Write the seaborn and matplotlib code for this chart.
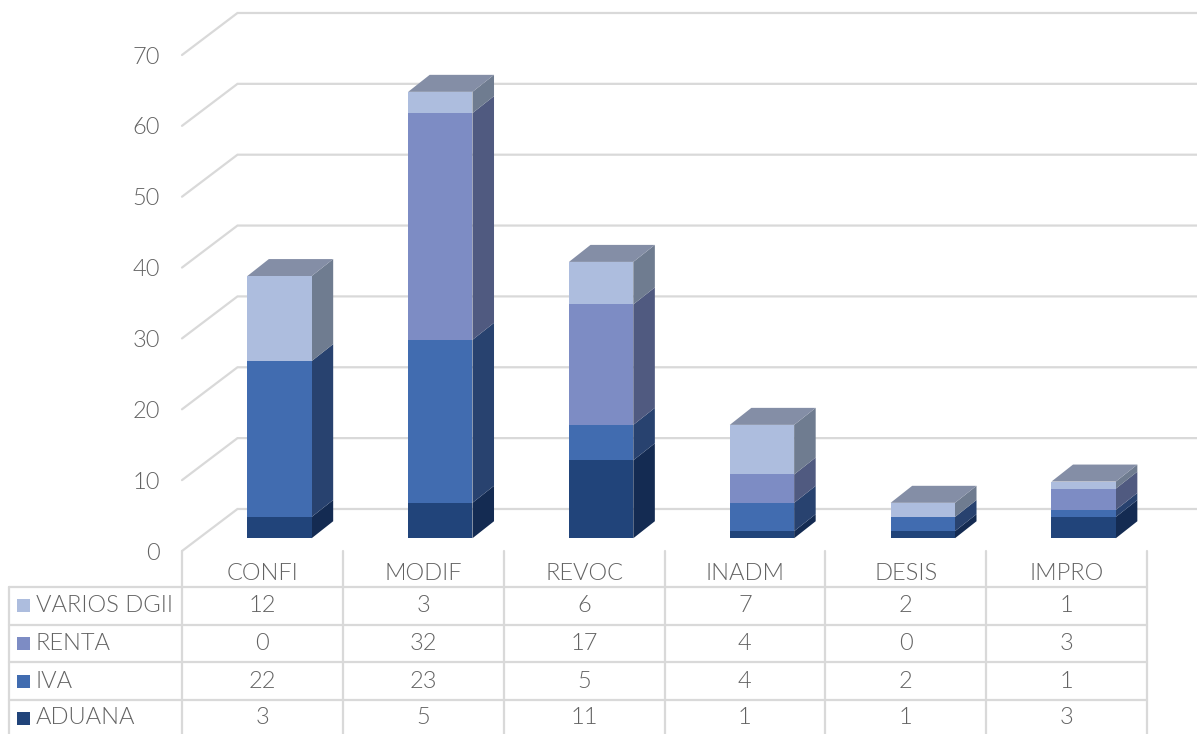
import matplotlib
matplotlib.use("Agg")
import matplotlib.pyplot as plt
from matplotlib.patches import Polygon, Rectangle
from matplotlib.transforms import Affine2D
import numpy as np
import seaborn as sns

categorias = ['CONFI', 'MODIF', 'REVOC', 'INADM', 'DESIS', 'IMPRO']
aduana = [3, 5, 11, 1, 1, 3]
iva = [22, 23, 5, 4, 2, 1]
renta = [0, 32, 17, 4, 0, 3]
varios = [12, 3, 6, 7, 2, 1]

nombres = ['ADUANA', 'IVA', 'RENTA', 'VARIOS DGII']
series = [aduana, iva, renta, varios]
colores = ['#21447A', '#416CB0', '#7D8CC4', '#ADBDDE']
colores_lado = ['#142B52', '#28426F', '#505A80', '#6F7C90']
color_tapa = '#848EA6'
color_linea = '#D9D9D9'
color_texto = '#636363'

W, H = 1197, 734

sns.set_theme(style='white')
plt.rcParams['font.family'] = ['Lato', 'DejaVu Sans']
plt.rcParams['font.weight'] = 300

fig = plt.figure(figsize=(W / 100, H / 100), dpi=100)
ax = fig.add_axes([182 / W, 1 - 551 / H, 965 / W, 496 / H])

# desplazamientos de la falsa perspectiva, en unidades de los datos
ancho = 0.4
pared_x, pared_y = 0.345, 5.93
barra_x, barra_y = 0.106, 1.8
fondo_x, fondo_y = 0.134, 2.4
x_fin = (W - 182) / (965 / 6) - 0.5

for v in range(0, 71, 10):
    ax.plot([-0.5, -0.5 + pared_x, x_fin], [v, v + pared_y, v + pared_y],
            color=color_linea, lw=1.6, clip_on=False, zorder=1,
            solid_joinstyle='miter')

desplaza = Affine2D().translate(barra_x, barra_y) + ax.transData
base = np.zeros(len(categorias))
for vals, col, lado in zip(series, colores, colores_lado):
    antes = len(ax.patches)
    sns.barplot(x=categorias, y=vals, bottom=base, color=col, saturation=1,
                width=ancho, linewidth=0, ax=ax, zorder=3)
    for p in ax.patches[antes:]:
        p.set_transform(desplaza)
        p.set_clip_on(False)
    for i, v in enumerate(vals):
        if v == 0:
            continue
        x1 = i + ancho / 2
        y0, y1 = base[i], base[i] + v
        ax.add_patch(Polygon([(x1, y0), (x1 + fondo_x, y0 + fondo_y),
                              (x1 + fondo_x, y1 + fondo_y), (x1, y1)],
                             closed=True, fc=lado, ec='none', zorder=2.5,
                             transform=desplaza, clip_on=False))
    base = base + np.array(vals)

for i, total in enumerate(base):
    x0, x1 = i - ancho / 2, i + ancho / 2
    ax.add_patch(Polygon([(x0, total), (x1, total),
                          (x1 + fondo_x, total + fondo_y),
                          (x0 + fondo_x, total + fondo_y)],
                         closed=True, fc=color_tapa, ec='none', zorder=2.6,
                         transform=desplaza, clip_on=False))

ax.set_xlim(-0.5, 5.5)
ax.set_ylim(0, 70)
ax.set_yticks(range(0, 71, 10))
ax.set_xticks([])
ax.tick_params(axis='y', length=0, pad=16, labelsize=17, labelcolor=color_texto)
sns.despine(ax=ax, left=True, bottom=True)
ax.patch.set_alpha(0)

# tabla de datos debajo del grafico, en pixeles de la figura
tabla = fig.add_axes([0, 0, 1, 1], zorder=-1)
tabla.set_xlim(0, W)
tabla.set_ylim(H, 0)
tabla.axis('off')

filas_y = [587, 624.5, 662, 700, H + 5]
cols_x = [182 + k * 965 / 6 for k in range(7)]
centros_y = [605, 643, 681, 718]

for y in filas_y[:-1]:
    tabla.plot([9, 1147], [y, y], color=color_linea, lw=1.6)
tabla.plot([9, 9], [587, H + 5], color=color_linea, lw=1.6)
for x in cols_x:
    tabla.plot([x, x], [551, H + 5], color=color_linea, lw=1.6)

estilo = dict(color=color_texto, fontsize=17, va='center')
for i, cat in enumerate(categorias):
    tabla.text((cols_x[i] + cols_x[i + 1]) / 2, 573, cat, ha='center', **estilo)

for fila, k in enumerate([3, 2, 1, 0]):
    y = centros_y[fila]
    tabla.add_patch(Rectangle((17, y - 6.5), 13, 13, fc=colores[k], ec='none'))
    tabla.text(36, y, nombres[k], ha='left', **estilo)
    for i, v in enumerate(series[k]):
        tabla.text((cols_x[i] + cols_x[i + 1]) / 2, y, str(v), ha='center', **estilo)

fig.savefig('out.png', dpi=100)
